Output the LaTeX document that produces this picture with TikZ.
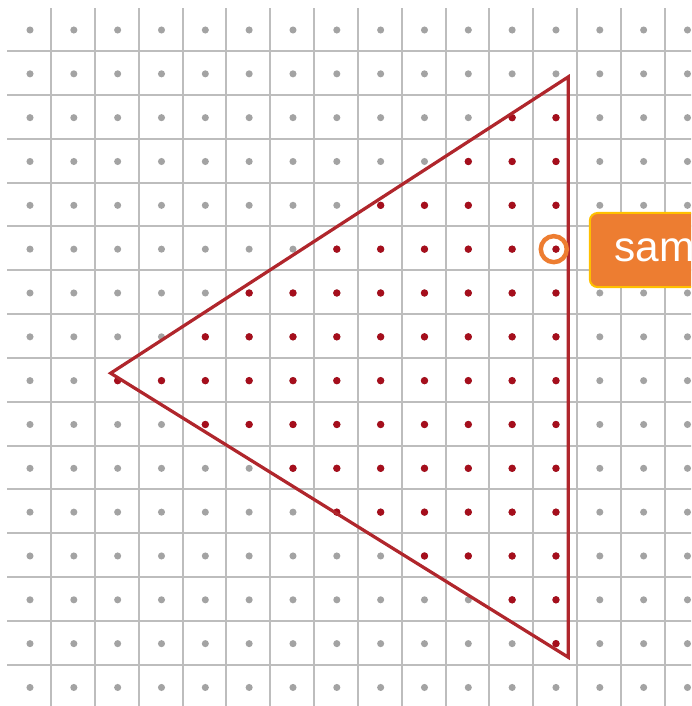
\documentclass[tikz,border=0pt]{standalone}
\usepackage{fontspec}
\setmainfont{Liberation Sans}
\definecolor{gridgray}{HTML}{BDBDBD}
\definecolor{dotgray}{HTML}{A3A3A3}
\definecolor{hitred}{HTML}{A50E1C}
\definecolor{edgered}{HTML}{B0262C}
\definecolor{tagorange}{HTML}{ED7D31}
\definecolor{taggold}{HTML}{FFC000}

\begin{document}
\begin{tikzpicture}[y=-1cm,
    gridline/.style={draw=gridgray, line width=1.3pt},
    sampledot/.style={fill=dotgray},
    hitdot/.style={fill=hitred},
    edge/.style={draw=edgered, line width=2.1pt, line join=miter},
    probering/.style={draw=tagorange, line width=2.9pt},
    tag/.style={
        fill=tagorange,
        draw=taggold,
        line width=1.3pt,
        rounded corners=5pt,
        text=white,
        font=\fontsize{27.5}{31}\selectfont,
        anchor=west,
        inner xsep=0.56cm,
        minimum height=1.69cm
    }
]
\clip (-0.6845,-0.6845) rectangle (15.081,15.423);
% pixel grid
\foreach \k in {1,...,15} {
    \draw[gridline] (\k-0.52,-0.5) -- (\k-0.52,15.6);
    \draw[gridline] (-0.52,\k-0.52) -- (15.2,\k-0.52);
}
% sample points
\foreach \i in {0,...,15}
    \foreach \j in {0,...,15}
        \fill[sampledot] (\i,\j) circle (2.3pt);
% covered samples, row/first column
\foreach \j/\s in {2/11,3/10,4/8,5/7,6/5,7/4,8/2,9/4,10/6,11/7,12/9,13/11,14/12}
    \foreach \i in {\s,...,12}
        \fill[hitdot] (\i,\j) circle (2.4pt);
% triangle
\coordinate (apex) at (12.28,1.07);
\coordinate (tip) at (1.84,7.83);
\coordinate (foot) at (12.28,14.31);
\draw[edge] (apex) -- (tip) -- (foot) -- cycle;
% highlighted sample
\coordinate (probe) at (11.95,5);
\draw[probering] (probe) circle (0.297);
\node[tag] (samplelabel) at (12.75,5.02) {sam};
\end{tikzpicture}
\end{document}
